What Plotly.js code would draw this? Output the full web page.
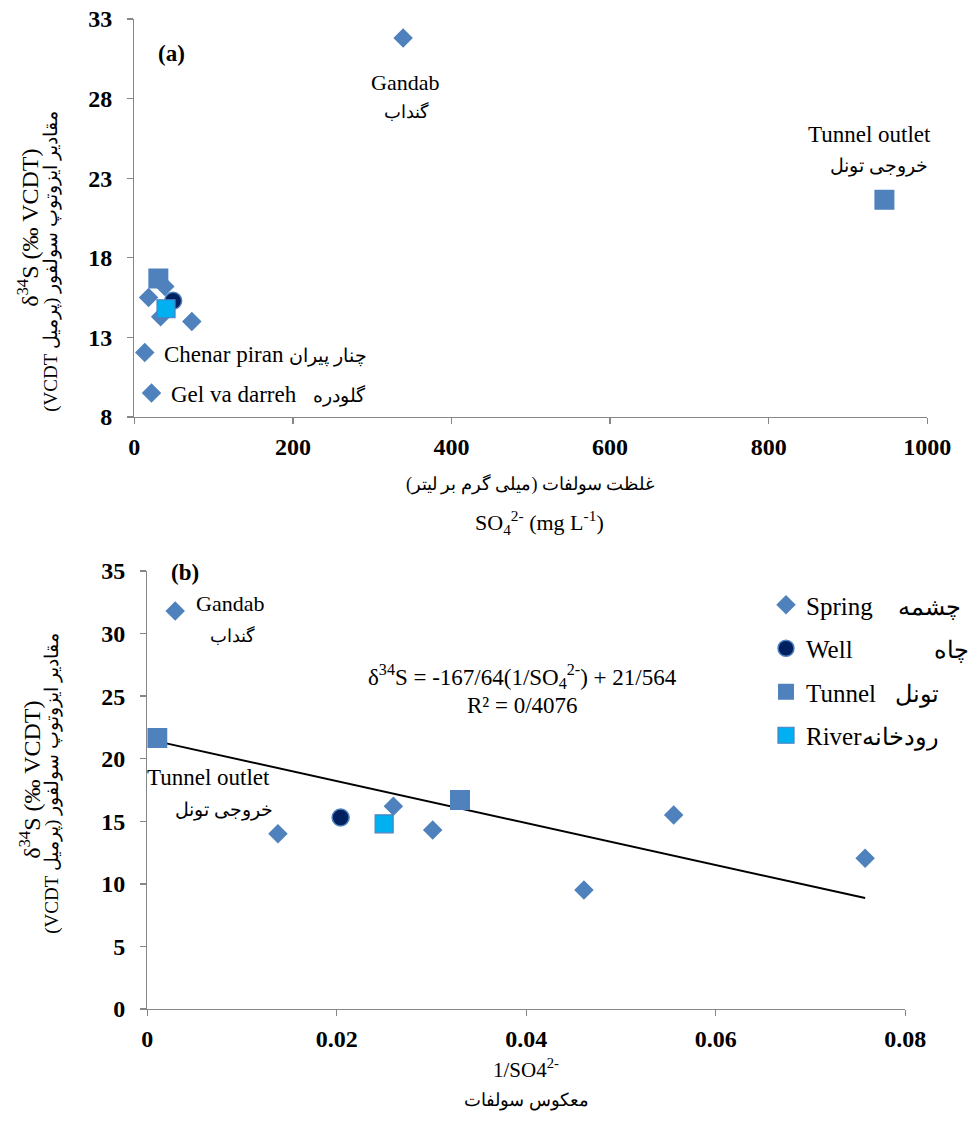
<!DOCTYPE html>
<html>
<head>
<meta charset="utf-8">
<script src="https://cdn.plot.ly/plotly-3.0.1.min.js"></script>
<style>html,body{margin:0;padding:0;background:#fff;}#chart{width:974px;height:1121px;}</style>
</head>
<body>
<div id="chart"></div>
<script>
// ---- data ----
const springSO4   = [339, 13.2, 21.7, 18, 38.5, 33.2, 72.5];
const springD34S  = [31.8, 12.05, 9.5, 15.5, 16.2, 14.3, 14.0];
const wellSO4     = [49];
const wellD34S    = [15.3];
const tunnelSO4   = [946, 30.3];
const tunnelD34S  = [21.65, 16.7];
const riverSO4    = [40];
const riverD34S   = [14.8];
const trendSlope = -167.64;
const trendIntercept = 21.564;
const nb = n => "\u00A0".repeat(n);
const fa = (t, s) => "<span style='font-size:" + s + "px'>" + t + "</span>";
const seriesNames = [
  "Spring" + nb(4) + fa("چشمه", 24),
  "Well" + nb(13) + fa("چاه", 24),
  "Tunnel" + nb(3) + fa("تونل", 24),
  "River" + fa("رودخانه", 24)
];

const inv = a => a.map(v => 1 / v);
const allInv = [].concat(inv(springSO4), inv(wellSO4), inv(tunnelSO4), inv(riverSO4));
const tMin = Math.min(...allInv), tMax = Math.max(...allInv);

const W = 974, H = 1121;
const px = x => x / W, py = y => 1 - y / H;
const serif = "Liberation Serif";
const blue = "#4F81BD";

const mk = {
  spring: {symbol: "diamond", size: 15, color: blue},
  well: {symbol: "circle", size: 17, color: "#002060", line: {color: blue, width: 1.5}},
  tunnel: {symbol: "square", size: 20, color: blue},
  river: {symbol: "square", size: 18, color: "#00B0F0", line: {color: blue, width: 1.2}}
};

const traces = [
  // chart (a)
  {x: tunnelSO4, y: tunnelD34S, xaxis: "x", yaxis: "y", mode: "markers", marker: mk.tunnel, showlegend: false},
  {x: springSO4, y: springD34S, xaxis: "x", yaxis: "y", mode: "markers", marker: mk.spring, showlegend: false},
  {x: wellSO4, y: wellD34S, xaxis: "x", yaxis: "y", mode: "markers", marker: mk.well, showlegend: false},
  {x: riverSO4, y: riverD34S, xaxis: "x", yaxis: "y", mode: "markers", marker: mk.river, showlegend: false},
  // chart (b)
  {x: [tMin, tMax], y: [trendSlope * tMin + trendIntercept, trendSlope * tMax + trendIntercept], xaxis: "x2", yaxis: "y2",
   mode: "lines", line: {color: "#000", width: 2}, showlegend: false},
  {x: inv(springSO4), y: springD34S, xaxis: "x2", yaxis: "y2", mode: "markers", marker: mk.spring, name: seriesNames[0], legendgroup: "a"},
  {x: inv(wellSO4), y: wellD34S, xaxis: "x2", yaxis: "y2", mode: "markers", marker: mk.well, name: seriesNames[1], legendgroup: "b"},
  {x: inv(tunnelSO4), y: tunnelD34S, xaxis: "x2", yaxis: "y2", mode: "markers", marker: mk.tunnel, name: seriesNames[2], legendgroup: "c"},
  {x: inv(riverSO4), y: riverD34S, xaxis: "x2", yaxis: "y2", mode: "markers", marker: mk.river, name: seriesNames[3], legendgroup: "d"}
];

const axisBase = {
  showline: true, linecolor: "#868686", linewidth: 1.3, showgrid: false, zeroline: false,
  ticks: "outside", ticklen: 6, tickcolor: "#868686", tickwidth: 1.3,
  tickfont: {family: serif, size: 24, color: "#000", weight: "bold"}
};

function ann(x, y, text, size, opts) {
  return Object.assign({xref: "paper", yref: "paper", x: px(x), y: py(y), text: text, showarrow: false,
    font: {family: serif, size: size, color: "#000"}, xanchor: "center", yanchor: "middle"}, opts || {});
}
const persianYTitle = "\u202Bمقادیر ایزوتوپ سولفور (پرمیل VCDT)\u202C";

const annotations = [
  ann(172, 54, "<b>(a)</b>", 23),
  ann(407, 83, "Gandab", 22),
  ann(409, 112, "گنداب", 18),
  ann(874, 135, "Tunnel outlet", 23),
  ann(884, 166, "خروجی تونل", 19),
  ann(163, 354, "Chenar piran " + fa("چنار پیران", 19), 23, {xanchor: "left"}),
  ann(170, 394, "Gel va darreh" + nb(3) + fa("گلودره", 19), 23, {xanchor: "left"}),
  ann(533, 484, "غلظت سولفات (میلی گرم بر لیتر)", 18),
  ann(542, 522, "SO<sub>4</sub><sup>2-</sup> (mg L<sup>-1</sup>)", 22),
  ann(28, 228, "δ<sup>34</sup>S (‰ VCDT)", 24, {textangle: -90}),
  ann(51, 262, persianYTitle, 19, {textangle: -90}),

  ann(186, 572, "<b>(b)</b>", 23),
  ann(231, 603, "Gandab", 22),
  ann(234, 635, "گنداب", 18),
  ann(525, 676, "δ<sup>34</sup>S = -167/64(1/SO<sub>4</sub><sup>2-</sup>) + 21/564", 23),
  ann(525, 705, "R² = 0/4076", 23),
  ann(210, 777, "Tunnel outlet", 23),
  ann(225, 810, "خروجی تونل", 19),
  ann(529, 1068, "1/SO4<sup>2-</sup>", 21),
  ann(529, 1100, "معکوس سولفات", 18),
  ann(30, 780, "δ<sup>34</sup>S (‰ VCDT)", 24, {textangle: -90}),
  ann(52, 784, persianYTitle, 19, {textangle: -90})
];

const layout = {
  width: W, height: H, margin: {l: 0, r: 0, t: 0, b: 0},
  paper_bgcolor: "#fff", plot_bgcolor: "#fff",
  font: {family: serif},
  xaxis: Object.assign({}, axisBase, {domain: [px(135), px(932)], range: [0, 1000], tick0: 0, dtick: 200, anchor: "y", ticklabelstandoff: 2}),
  yaxis: Object.assign({}, axisBase, {domain: [py(417), py(19)], range: [8, 33], tick0: 8, dtick: 5, anchor: "x", ticklabelstandoff: 10}),
  xaxis2: Object.assign({}, axisBase, {domain: [px(148), px(910)], range: [0, 0.08], tick0: 0, dtick: 0.02, anchor: "y2", ticklabelstandoff: 2}),
  yaxis2: Object.assign({}, axisBase, {domain: [py(1009), py(571)], range: [0, 35], tick0: 0, dtick: 5, anchor: "x2", ticklabelstandoff: 10}),
  showlegend: true,
  legend: {x: px(770), y: py(582), xanchor: "left", yanchor: "top", bgcolor: "rgba(0,0,0,0)",
    font: {family: serif, size: 25, color: "#000"}, tracegroupgap: 8, itemsizing: "trace"},
  annotations: annotations
};

Plotly.newPlot("chart", traces, layout, {displayModeBar: false, staticPlot: true});
</script>
</body>
</html>
